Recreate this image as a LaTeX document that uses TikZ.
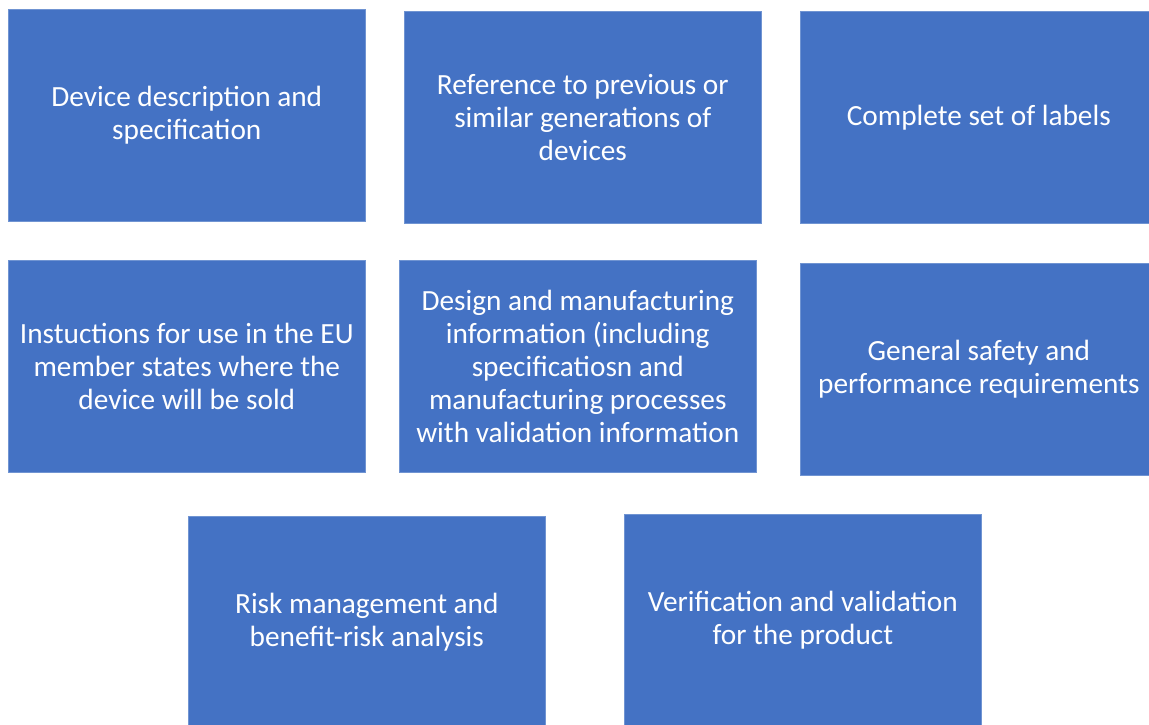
\documentclass[tikz,border=0pt]{standalone}
\usepackage{fontspec}
\setmainfont{Carlito}
\usetikzlibrary{positioning}

\definecolor{docblue}{HTML}{4472C4}
\definecolor{docedge}{HTML}{7094D2}

\begin{document}
\begin{tikzpicture}[x=1pt, y=-1pt,
  part/.style={draw=docedge, fill=docblue, text=white, line width=0.6pt,
    minimum width=357pt, minimum height=212pt, inner sep=0pt,
    align=center, anchor=north west, font=\fontsize{29.3}{33}\selectfont}]

  \useasboundingbox (0,0) rectangle (1149,724);

  % Top row
  \node[part] (desc) at (8,9) {Device description and\\specification};
  \node[part] (prev) at (404,11) {Reference to previous or\\similar generations of\\devices};
  \node[part] (labels) at (800,11) {Complete set of labels};

  % Middle row
  \node[part] (ifu) at (8,260) {Instuctions for use in the EU\\member states where the\\device will be sold};
  \node[part] (design) at (399,260) {Design and manufacturing\\information (including\\specificatiosn and\\manufacturing processes\\with validation information};
  \node[part] (gspr) at (800,263) {General safety and\\performance requirements};

  % Bottom row, cut by the page edge
  \node[part] (risk) at (188,516) {Risk management and\\benefit-risk analysis};
  \node[part] (vv) at (624,514) {Verification and validation\\for the product};

\end{tikzpicture}
\end{document}
